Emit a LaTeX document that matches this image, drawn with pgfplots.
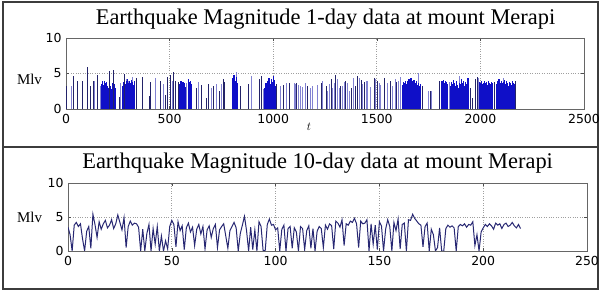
\documentclass[border=0pt]{standalone}
\usepackage{fontspec}
\setmainfont{Liberation Serif}
\newfontfamily\tickfont{DejaVu Sans}
\usepackage{pgfplots}
\pgfplotsset{compat=1.18}
\definecolor{darkbar}{RGB}{35,35,105}
\definecolor{lightbar}{RGB}{130,130,210}
\definecolor{densebar}{RGB}{15,15,200}
\definecolor{linecol}{RGB}{40,40,115}
\definecolor{framecol}{RGB}{60,60,60}
\pgfplotsset{merapi/.style={
 scale only axis, xmin=0, ymin=0, ymax=10, ytick={0,5,10},
 tick align=inside, major tick length=3bp,
 grid=major, grid style={dotted, gray!75, line width=0.7bp},
 axis line style={black!60, line width=0.9bp},
 tick style={black!70, line width=0.6bp},
 ticklabel style={font=\tickfont\fontsize{12.5}{14}\selectfont},
 /pgf/number format/assume math mode=true,
 /pgf/number format/1000 sep={},
 scaled ticks=false,
 xticklabel style={yshift=-2bp},
 yticklabel style={xshift=-1bp},
 anchor=south west,
 title style={font=\fontsize{22.5}{24}\selectfont, anchor=base},
 y label style={rotate=-90, anchor=center, font=\fontsize{15}{17}\selectfont},
}}
\begin{document}
\begin{tikzpicture}
\useasboundingbox (0,0) rectangle (602bp,291bp);
\draw[framecol, line width=1.5bp] (3bp,2bp) rectangle (598bp,289bp);
\draw[framecol, line width=1.8bp] (3bp,144bp) -- (598bp,144bp);
\begin{axis}[merapi, at={(66bp,182bp)}, width=518bp, height=71bp,
 xmax=2500, xtick={0,500,1000,1500,2000,2500},
 title={Earthquake Magnitude 1-day data at mount Merapi},
 title style={at={(axis description cs:0.501,1)}, yshift=8bp},
 ylabel={Mlv}, y label style={at={(axis description cs:-0.0705,0.42)}},
 xlabel={$t$}, x label style={at={(axis description cs:0.469,0)}, anchor=center, yshift=-18bp, font=\fontsize{12}{14}\selectfont},
]
\addplot[ycomb, no marks, draw=lightbar, line width=1bp] coordinates {
(26,3.3)(138,4.0)(167,3.2)(261,3.6)(293,4.2)(304,4.0)(320,4.5)(430,4.3)(470,3.5)(512,3.9)
(580,3.6)(639,3.8)(703,3.0)(724,3.5)(752,3.5)(824,5.2)(896,4.6)(952,2.8)(1033,3.3)(1062,3.6)
(1105,3.6)(1110,3.5)(1134,3.3)(1155,3.7)(1178,3.0)(1215,3.4)(1263,2.5)(1271,3.5)(1287,3.0)(1311,4.2)
(1335,3.2)(1359,3.6)(1387,4.3)(1416,4.3)(1448,4.0)(1456,3.9)(1496,4.2)(1512,3.6)(1589,4.2)(1615,4.5)
(1700,5.0)(1750,2.5)(1766,2.6)(1850,3.8)(1900,4.6)(1990,4.4)(2110,4.3)
(1120,3.4)(1143,3.1)(1192,3.2)(1240,3.9)(1295,3.6)(1318,2.9)(1342,3.8)(1368,2.6)(1432,3.5)(1470,3.1)(1520,3.4)(1550,3.7)(1578,3.3)(1605,3.9)
};
\addplot[ycomb, no marks, draw=densebar, line width=1.2bp] coordinates {
(170,3.5)(175,3.9)(180,3.4)(185,4.0)(190,3.6)(195,3.8)(200,3.3)(205,3.0)(210,3.6)(215,3.2)(220,2.8)(225,3.7)(230,4.0)(235,3.5)(240,2.9)
(272,3.2)(277,3.8)(282,4.1)(287,3.5)(292,3.9)(297,4.2)(302,3.6)(307,4.0)(312,3.7)(317,4.1)(322,3.8)(327,3.4)(332,3.9)
(550,3.5)(555,3.9)(560,3.3)(565,3.8)(570,3.6)(575,3.1)
(590,4.2)(595,3.8)(600,4.0)(605,3.5)
(806,4.3)(811,4.8)(816,3.9)(821,4.5)(826,3.7)
(960,3.0)(965,3.6)(970,2.8)(975,3.9)(980,4.4)(985,3.5)(990,4.2)(995,3.8)(1000,4.6)(1005,4.1)(1010,3.3)
(1625,3.4)(1630,3.8)(1635,3.6)(1640,4.0)(1645,3.5)(1650,3.9)(1655,4.2)(1660,3.8)(1665,4.4)(1670,4.0)(1675,3.7)(1680,4.1)(1685,3.6)(1690,3.9)(1695,3.4)(1700,3.6)(1705,3.2)(1710,3.5)
(1815,3.9)(1820,4.1)(1825,3.6)(1830,4.0)(1835,3.8)(1840,3.5)
(1855,3.3)(1860,3.8)(1865,3.5)(1870,4.1)(1875,3.6)(1880,3.2)(1885,3.9)(1890,3.4)(1895,3.0)(1900,3.7)(1905,3.5)(1910,4.2)(1915,3.6)(1920,3.9)(1925,3.3)(1930,3.8)(1935,3.5)(1940,4.3)
(1995,3.8)(2000,3.6)(2005,3.9)(2010,3.5)(2015,3.7)(2020,4.0)(2025,3.6)(2030,3.8)(2035,3.4)(2040,3.9)(2045,3.7)(2050,3.5)(2055,3.8)(2060,3.6)
(2080,3.5)(2085,3.9)(2090,4.2)(2095,3.7)(2100,4.0)(2105,3.6)(2110,3.8)(2115,4.1)(2120,3.5)(2125,3.9)(2130,3.6)(2135,3.3)(2140,3.8)(2145,3.7)(2150,3.4)(2155,3.9)(2160,3.6)(2165,3.5)
};
\addplot[ycomb, no marks, draw=darkbar, line width=1bp] coordinates {
(3,3.2)(35,4.6)(55,3.9)(79,3.9)(106,5.9)(116,3.3)(132,3.9)(154,4.8)(209,5.3)(228,5.5)
(256,1.7)(280,4.9)(338,4.3)(367,4.5)(402,1.8)(409,3.8)(457,4.0)(481,2.0)(492,4.5)(502,4.8)
(521,5.2)(529,4.0)(545,3.8)(631,3.0)(655,3.4)(679,1.5)(687,3.5)(711,3.3)(743,2.5)(760,4.2)
(767,3.8)(840,3.2)(880,3.5)(936,4.2)(944,4.6)(1017,3.5)(1049,3.4)(1081,3.6)(1113,3.7)(1167,3.2)
(1231,3.7)(1255,3.3)(1279,4.2)(1303,4.8)(1327,3.3)(1351,4.0)(1376,3.0)(1397,3.3)(1408,4.6)(1424,4.1)
(1440,3.8)(1488,4.4)(1504,4.0)(1536,4.4)(1568,4.0)(1593,3.8)(1720,3.2)(1760,2.5)(1802,4.0)(1950,3.0)
(1960,1.5)(1975,4.2)(1985,4.5)(2070,3.8)(2170,3.9)
};
\end{axis}
\begin{axis}[merapi, at={(68bp,40bp)}, width=519bp, height=68bp,
 xmax=250, xtick={0,50,100,150,200,250},
 title={Earthquake Magnitude 10-day data at mount Merapi},
 title style={at={(axis description cs:0.481,1)}, yshift=9bp},
 ylabel={Mlv}, y label style={at={(axis description cs:-0.074,0.49)}},
]
\addplot[linecol, line width=1bp, no marks] table[x expr=\coordindex, y index=0] {
3.5
2.4
0
3.8
4.2
3.6
4.0
1.8
0
2.9
3.6
0.4
5.4
3.9
2.0
4.3
3.2
4.0
4.5
3.4
3.8
4.6
3.3
4.0
5.3
4.2
3.1
4.9
0.5
3.6
4.4
3.8
4.1
4.0
3.5
0
3.2
0
2.6
3.9
0
3.3
1.0
3.6
0
2.2
0
1.5
0.3
3.6
4.5
3.9
0.6
4.3
3.0
3.7
0.2
3.4
4.1
2.8
3.5
0.8
3.2
3.9
2.5
3.6
0.3
3.1
3.7
2.0
3.3
3.9
0.5
3.1
3.6
4.0
2.2
0.4
3.0
3.6
4.2
3.4
0
2.6
3.8
5.1
3.0
0
3.5
0.2
3.1
0
4.3
3.6
0
0.1
3.9
4.7
3.8
3.9
3.1
3.4
0
3.2
3.8
0
3.3
3.6
0.4
3.4
2.8
0
3.6
3.3
0.2
3.0
3.7
0.4
3.3
0
2.9
3.6
3.3
0.5
3.8
3.2
4.0
3.7
0.3
4.4
4.1
3.5
4.6
0.8
4.0
3.8
4.4
4.2
4.8
4.0
0.5
4.4
4.0
4.1
4.6
0
4.0
1.0
3.8
0.2
4.3
3.7
0
3.2
4.6
3.6
0
4.2
3.0
4.7
0.3
3.9
4.1
0
4.6
4.5
5.4
4.8
4.4
4.0
3.8
0.6
3.6
4.1
0
3.2
2.4
0
0.5
3.4
0
0
3.3
3.8
3.5
3.7
3.4
0
3.6
3.9
3.7
4.0
3.5
3.9
3.8
4.3
0.8
2.4
0
2.8
3.4
3.9
3.6
4.0
3.7
3.2
4.1
3.8
4.0
3.3
3.9
4.1
3.6
3.8
4.2
3.7
3.4
3.9
3.3
};
\end{axis}
\end{tikzpicture}
\end{document}
